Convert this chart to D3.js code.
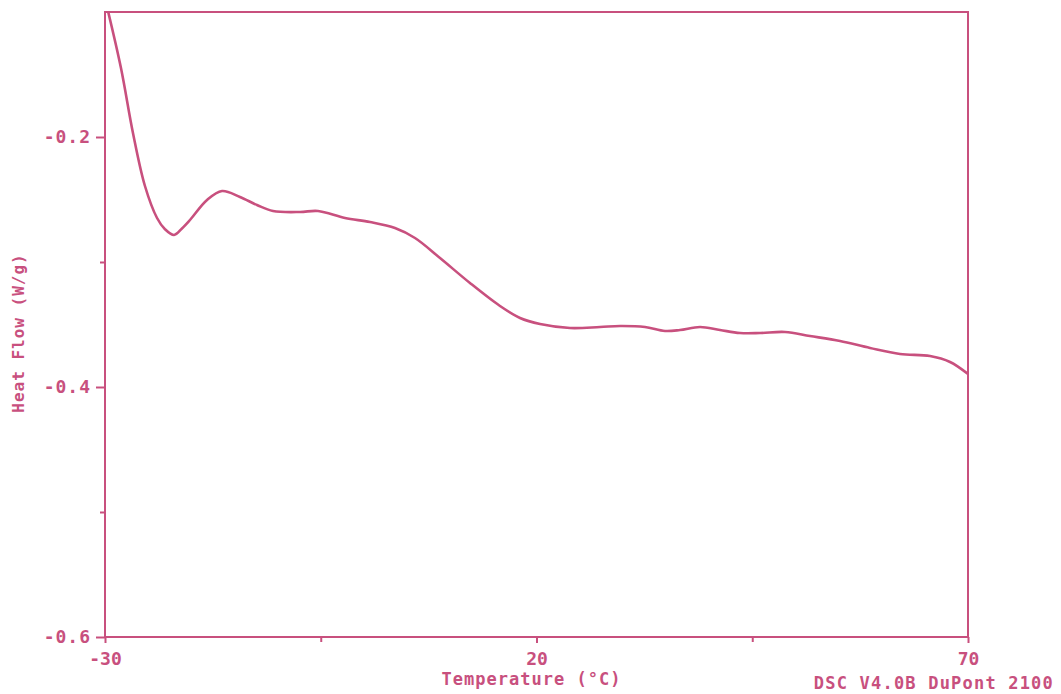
<!DOCTYPE html>
<html>
<head>
<meta charset="utf-8">
<script src="https://cdn.jsdelivr.net/npm/d3@7"></script>
<style>
  body { margin: 0; background: #fff; }
  svg text { font-family: "DejaVu Sans Mono", monospace; font-weight: bold; fill: #c8507e; }
</style>
</head>
<body>
<svg width="1061" height="694"></svg>
<script>
// DSC trace: temperature (°C) and heat flow (W/g)
const temps = [-29.8, -28.15, -26.76, -25.37, -23.97, -23.05, -22.0, -21.08, -20.15, -18.18, -16.44, -14.36,
    -12.39, -10.53, -7.4, -5.32, -2.19, 0.71, 3.6, 5.92, 8.82, 12.29, 15.77, 18.09,
    20.41, 23.88, 27.36, 29.68, 32.57, 34.89, 36.63, 38.95, 41.26, 43.58, 45.9, 48.8,
    51.69, 55.17, 58.65, 62.12, 65.6, 67.92, 70.0]
const heatFlow = [-0.095, -0.1448, -0.1968, -0.2392, -0.2648, -0.2738, -0.2784, -0.2732, -0.2664, -0.2504, -0.2432, -0.248,
    -0.2544, -0.2592, -0.26, -0.2592, -0.2648, -0.268, -0.2728, -0.2808, -0.2968, -0.3168, -0.3352, -0.3448,
    -0.3496, -0.3528, -0.352, -0.3512, -0.352, -0.3552, -0.3544, -0.352, -0.3544, -0.3568, -0.3568, -0.356,
    -0.3592, -0.3632, -0.3688, -0.3736, -0.3752, -0.38, -0.3896]

const xMajor = [-30, 20, 70]
const xMinor = [-5, 45]
const yMajor = [-0.2, -0.4, -0.6]
const yMinor = [-0.3, -0.5]

const color = "#c8507e"
const margin = { left: 105, top: 12, right: 93, bottom: 57 }
const svg = d3.select("svg")
const W = 1061 - margin.left - margin.right
const H = 694 - margin.top - margin.bottom

const x = d3.scaleLinear().domain([-30, 70]).range([0, W])
const y = d3.scaleLinear().domain([-0.6, -0.1]).range([H, 0])

const g = svg.append("g").attr("transform", `translate(${margin.left},${margin.top})`)

g.append("clipPath").attr("id", "clip")
    .append("rect").attr("width", W).attr("height", H)

// frame
g.append("rect")
    .attr("width", W).attr("height", H)
    .attr("fill", "none").attr("stroke", color).attr("stroke-width", 2)

// x axis ticks
const xAxis = g.append("g").attr("transform", `translate(0,${H})`)
    .call(d3.axisBottom(x).tickValues(xMajor).tickSize(6).tickFormat(d => d < 0 ? "-" + Math.abs(d) : d))
xAxis.selectAll("text")
    .attr("fill", color).attr("font-size", 18).attr("dy", "1.05em")
const xMin = g.append("g").attr("transform", `translate(0,${H})`)
    .call(d3.axisBottom(x).tickValues(xMinor).tickSize(5).tickFormat(""))

// y axis ticks
const yAxis = g.append("g")
    .call(d3.axisLeft(y).tickValues(yMajor).tickSize(9).tickFormat(d => "-0." + Math.round(Math.abs(d) * 10)))
yAxis.selectAll("text")
    .attr("fill", color).attr("font-size", 18).attr("x", -14)
    .style("letter-spacing", "1px")
const yMin = g.append("g")
    .call(d3.axisLeft(y).tickValues(yMinor).tickSize(5).tickFormat(""))

for (const ax of [xAxis, xMin, yAxis, yMin]) {
    ax.selectAll(".domain").remove()
    ax.selectAll("line").attr("stroke", color).attr("stroke-width", 2)
}

// curve
const pts = temps.map((t, i) => [t, heatFlow[i]])
g.append("path")
    .datum(pts)
    .attr("clip-path", "url(#clip)")
    .attr("fill", "none")
    .attr("stroke", color)
    .attr("stroke-width", 2.6)
    .attr("d", d3.line().x(d => x(d[0])).y(d => y(d[1])).curve(d3.curveCatmullRom.alpha(0.5)))

// labels
svg.append("text")
    .attr("x", margin.left + x(20) - 5).attr("y", 685)
    .attr("text-anchor", "middle").attr("font-size", 17)
    .style("letter-spacing", "1px")
    .text("Temperature (°C)")

svg.append("text")
    .attr("transform", "translate(24,333) rotate(-90)")
    .attr("text-anchor", "middle").attr("font-size", 16)
    .style("letter-spacing", "1px")
    .text("Heat Flow (W/g)")

svg.append("text")
    .attr("x", 1054).attr("y", 689)
    .attr("text-anchor", "end").attr("font-size", 17)
    .style("letter-spacing", "1.2px")
    .text("DSC V4.0B DuPont 2100")
</script>
</body>
</html>
